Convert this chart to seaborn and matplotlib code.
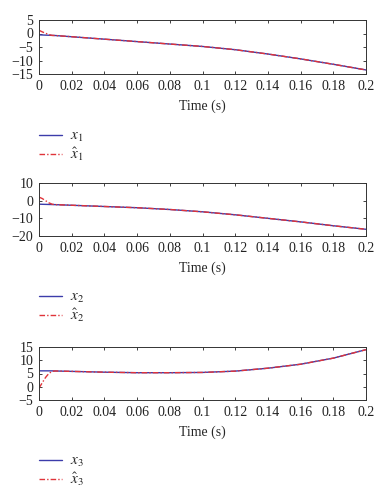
import numpy as np
import pandas as pd
import matplotlib
matplotlib.use("Agg")
import matplotlib.pyplot as plt
import seaborn as sns

# ---- data ----
t = [0.0, 0.002, 0.004, 0.006, 0.008, 0.01, 0.02, 0.04, 0.06, 0.08, 0.10, 0.12, 0.14, 0.16, 0.18, 0.20]
x1 = [-0.5, -0.55, -0.6, -0.65, -0.7, -0.75, -1.2, -2.1, -3.0, -3.9, -4.8, -6.0, -7.6, -9.4, -11.4, -13.5]
x1_hat = [1.2, 0.6, 0.1, -0.4, -0.7, -0.75, -1.2, -2.1, -3.0, -3.9, -4.8, -6.0, -7.6, -9.4, -11.4, -13.5]
x2 = [-2.0, -2.05, -2.1, -2.15, -2.2, -2.25, -2.6, -3.3, -4.0, -5.0, -6.3, -8.0, -10.0, -12.0, -14.2, -16.2]
x2_hat = [2.0, 1.2, 0.0, -1.2, -2.0, -2.25, -2.6, -3.3, -4.0, -5.0, -6.3, -8.0, -10.0, -12.0, -14.2, -16.2]
x3 = [6.0, 6.0, 6.0, 6.0, 6.0, 5.95, 5.8, 5.5, 5.3, 5.3, 5.4, 5.9, 7.0, 8.5, 10.8, 14.0]
x3_hat = [-0.5, 1.5, 3.5, 5.0, 5.8, 5.95, 5.8, 5.5, 5.3, 5.3, 5.4, 5.9, 7.0, 8.5, 10.8, 14.0]

ylims = [(-15, 5), (-20, 10), (-5, 15)]
yticks = [[-15, -10, -5, 0, 5], [-20, -10, 0, 10], [-5, 0, 5, 10, 15]]
xticks = [0, 0.02, 0.04, 0.06, 0.08, 0.1, 0.12, 0.14, 0.16, 0.18, 0.2]
xticklabels = ["0", "0.02", "0.04", "0.06", "0.08", "0.1", "0.12", "0.14", "0.16", "0.18", "0.2"]
labels = [(r"$x_1$", r"$\hat{x}_1$"), (r"$x_2$", r"$\hat{x}_2$"), (r"$x_3$", r"$\hat{x}_3$")]
series = [(x1, x1_hat), (x2, x2_hat), (x3, x3_hat)]

sns.set_theme(style="white")
plt.rcParams["font.family"] = ["Liberation Serif", "DejaVu Serif"]
plt.rcParams["mathtext.fontset"] = "stix"
plt.rcParams["font.size"] = 9.5

W, H = 386, 500
fig = plt.figure(figsize=(W / 100, H / 100), dpi=100)

# axes boxes in pixels: (left, top, right, bottom)
boxes = [(39, 20, 366, 74), (39, 183, 366, 236), (39, 347, 366, 400)]
blue = "#3c3caa"
red = "#e0343a"

for i, (box, (a, b), (la, lb)) in enumerate(zip(boxes, series, labels)):
    l, tp, r, bt = box
    ax = fig.add_axes([l / W, 1 - bt / H, (r - l) / W, (bt - tp) / H])
    df = pd.DataFrame({"t": t, "a": a, "b": b})
    sns.lineplot(data=df, x="t", y="a", ax=ax, color=blue, lw=1.0, label=la)
    sns.lineplot(data=df, x="t", y="b", ax=ax, color=red, lw=1.0, ls=(0, (4, 1.5, 1, 1.5)), label=lb)
    ax.set_xlim(0, 0.2)
    ax.set_ylim(*ylims[i])
    ax.set_yticks(yticks[i])
    ax.set_yticklabels([str(v).replace("-", "\u2212") for v in yticks[i]], fontsize=10)
    ax.set_xticks(xticks)
    ax.set_xticklabels(xticklabels, fontsize=10)
    ax.set_xlabel("Time (s)", fontsize=10, labelpad=5)
    ax.set_ylabel("")
    ax.tick_params(direction="in", length=2.5, width=0.6, top=True, right=True, pad=4,
                   bottom=True, left=True, colors="#222222")
    for s in ax.spines.values():
        s.set_linewidth(0.7)
        s.set_color("#333333")
    ax.legend(loc="upper left", bbox_to_anchor=(0.0, -1.03), frameon=False, fontsize=11,
              handlelength=1.5, handletextpad=0.5, labelspacing=0.1, borderaxespad=0,
              borderpad=0)

fig.savefig("out.png", dpi=100, facecolor="white")
